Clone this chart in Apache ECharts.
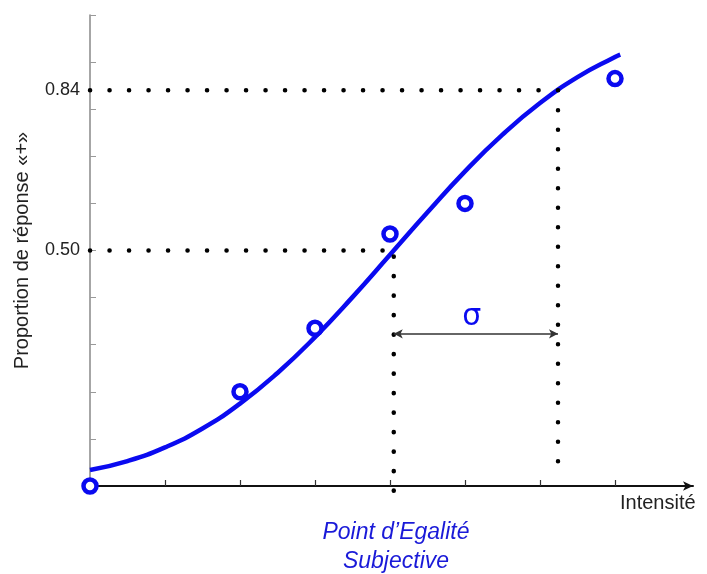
<!DOCTYPE html>
<html>
<head>
<meta charset="utf-8">
<script src="https://cdn.jsdelivr.net/npm/echarts@6/dist/echarts.min.js"></script>
<style>
  html, body { margin: 0; padding: 0; background: #fff; }
  #chart { width: 707px; height: 574px; }
</style>
</head>
<body>
<div id="chart"></div>
<script>
// measured points (intensity, proportion)
const pointX = [0, 2, 3, 4, 5, 7];
const pointY = [0, 0.20, 0.335, 0.535, 0.60, 0.865];

// fitted curve
const curveX = [0, 0.5, 1, 1.5, 2, 2.5, 3, 3.5, 4, 4.5, 5, 5.5, 6, 6.5, 7, 7.07];
const curveY = [0.034, 0.053, 0.082, 0.122, 0.175, 0.24, 0.316, 0.401, 0.491, 0.581, 0.668, 0.746, 0.813, 0.868, 0.911, 0.916];

const pse = 4.05;      // point of subjective equality
const x84 = 6.24;      // intensity at 0.84
const sigmaY = 0.323;  // height of the sigma arrow

const yLabels = [0.5, 0.84];
const yTicks = [0.1, 0.2, 0.3, 0.4, 0.5, 0.6, 0.7, 0.8, 0.9, 1.0];
const xTicks = [1, 2, 3, 4, 5, 6, 7];

const BLUE = '#0a0af0';
const dots = { color: '#000', width: 4.5, type: [0.1, 19.4], cap: 'round' };

// dotted guide lines sit above the curve
const dotLine = (pts) => ({
  type: 'line',
  data: pts,
  symbol: 'none',
  clip: false,
  silent: true,
  lineStyle: dots,
  z: 4
});

const chart = echarts.init(document.getElementById('chart'));

const option = {
  animation: false,
  grid: { left: 90, right: 14, top: 15, bottom: 88, outerBoundsMode: 'none' },
  xAxis: {
    type: 'value',
    min: 0,
    max: 8.04,
    splitLine: { show: false },
    axisLine: {
      lineStyle: { color: '#111', width: 2 },
      symbol: ['none', 'arrow'],
      symbolSize: [7, 10]
    },
    axisTick: {
      inside: true,
      length: 6,
      customValues: xTicks,
      lineStyle: { color: '#333', width: 1.2 }
    },
    axisLabel: { show: false }
  },
  yAxis: {
    type: 'value',
    min: 0,
    max: 1,
    interval: 0.1,
    name: 'Proportion de réponse «+»',
    nameLocation: 'middle',
    nameGap: 58,
    nameRotate: 90,
    nameTextStyle: { fontFamily: 'Liberation Sans', fontSize: 20, color: '#222' },
    splitLine: { show: false },
    axisLine: { lineStyle: { color: '#888', width: 1.5 } },
    axisTick: {
      inside: true,
      length: 6,
      customValues: yTicks,
      lineStyle: { color: '#999', width: 1 }
    },
    axisLabel: {
      customValues: yLabels,
      formatter: (v) => v.toFixed(2),
      fontFamily: 'Liberation Sans',
      fontSize: 18,
      color: '#222',
      margin: 10
    }
  },
  series: [
    dotLine([[0, 0.84], [x84 + 0.02, 0.84]]),
    dotLine([[0, 0.5], [pse, 0.5]]),
    dotLine([[pse, 0.487], [pse, -0.038]]),
    dotLine([[x84, 0.798], [x84, 0.017]]),
    {
      type: 'line',
      data: [],
      silent: true,
      markLine: {
        silent: true,
        symbol: ['arrow', 'arrow'],
        symbolSize: [7, 9],
        lineStyle: { color: '#333', width: 1.5, type: 'solid' },
        label: {
          show: true,
          position: 'middle',
          formatter: 'σ',
          fontFamily: 'DejaVu Sans',
          fontSize: 30,
          color: BLUE,
          distance: 2,
          offset: [-4, 0]
        },
        data: [[{ coord: [pse, sigmaY] }, { coord: [x84, sigmaY] }]]
      }
    },
    {
      type: 'line',
      data: curveX.map((x, i) => [x, curveY[i]]),
      smooth: true,
      symbol: 'none',
      clip: false,
      lineStyle: { color: BLUE, width: 4.5 },
      z: 3
    },
    {
      type: 'scatter',
      data: pointX.map((x, i) => [x, pointY[i]]),
      symbol: 'circle',
      symbolSize: 13,
      clip: false,
      itemStyle: { color: '#fff', borderColor: BLUE, borderWidth: 4.5, opacity: 1 },
      z: 5
    }
  ],
  graphic: [
    {
      type: 'text',
      x: 620,
      y: 503,
      style: {
        text: 'Intensité',
        fontFamily: 'Liberation Sans',
        fontSize: 20,
        fill: '#222',
        textVerticalAlign: 'middle'
      }
    },
    {
      type: 'text',
      x: 396,
      y: 518,
      style: {
        text: 'Point d’Egalité\nSubjective',
        fontFamily: 'Liberation Sans',
        fontStyle: 'italic',
        fontSize: 23,
        lineHeight: 29,
        fill: '#1a1ad8',
        textAlign: 'center'
      }
    }
  ]
};

chart.setOption(option);
</script>
</body>
</html>
